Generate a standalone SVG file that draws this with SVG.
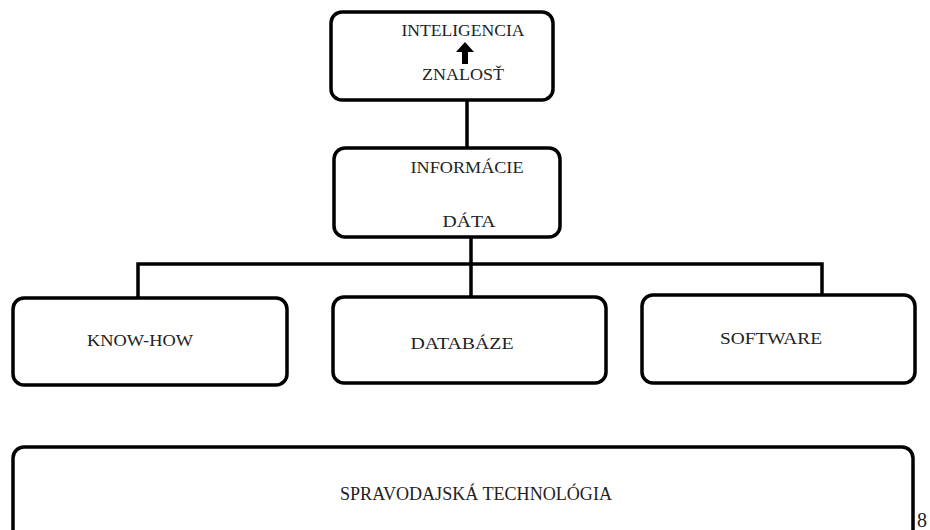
<svg xmlns="http://www.w3.org/2000/svg" width="930" height="530" viewBox="0 0 930 530">
<style>
.box{fill:#fff;stroke:#000;stroke-width:3.5}
.ln{fill:none;stroke:#000;stroke-width:3.5}
text{font-family:"Liberation Serif","Times New Roman",serif;font-size:16px;fill:#222;text-anchor:middle}
</style>
<rect width="930" height="530" fill="#fff"/>
<g id="connectors">
<line class="ln" x1="467" y1="100" x2="467" y2="150"/>
<line class="ln" x1="471" y1="237" x2="471" y2="297"/>
<polyline class="ln" points="138,298 138,264 822,264 822,296"/>
</g>
<g id="node-inteligencia">
<rect class="box" x="331" y="12" width="222" height="88" rx="11"/>
<text x="463" y="36" textLength="123" lengthAdjust="spacingAndGlyphs">INTELIGENCIA</text>
<path d="M465,42 L474,52 L468,52 L468,64 L462,64 L462,52 L456,52 Z" fill="#000"/>
<text x="463" y="80" textLength="82" lengthAdjust="spacingAndGlyphs">ZNALOSŤ</text>
</g>
<g id="node-informacie">
<rect class="box" x="334" y="148" width="226" height="89" rx="11"/>
<text x="467" y="173" textLength="113" lengthAdjust="spacingAndGlyphs">INFORMÁCIE</text>
<text x="469" y="227" textLength="53" lengthAdjust="spacingAndGlyphs">DÁTA</text>
</g>
<g id="node-knowhow">
<rect class="box" x="13" y="298" width="274" height="87" rx="11"/>
<text x="140" y="346" textLength="106" lengthAdjust="spacingAndGlyphs">KNOW-HOW</text>
</g>
<g id="node-databaze">
<rect class="box" x="333" y="297" width="273" height="86" rx="11"/>
<text x="462" y="349" textLength="103" lengthAdjust="spacingAndGlyphs">DATABÁZE</text>
</g>
<g id="node-software">
<rect class="box" x="642" y="295" width="273" height="88" rx="11"/>
<text x="771" y="344" textLength="102" lengthAdjust="spacingAndGlyphs">SOFTWARE</text>
</g>
<g id="node-spravodajska">
<rect class="box" x="13" y="447" width="900" height="110" rx="11"/>
<text x="476" y="500" textLength="272" lengthAdjust="spacingAndGlyphs" style="font-size:18px">SPRAVODAJSKÁ TECHNOLÓGIA</text>
</g>
<text x="917" y="527" style="font-size:20px;text-anchor:start">8</text>
</svg>
